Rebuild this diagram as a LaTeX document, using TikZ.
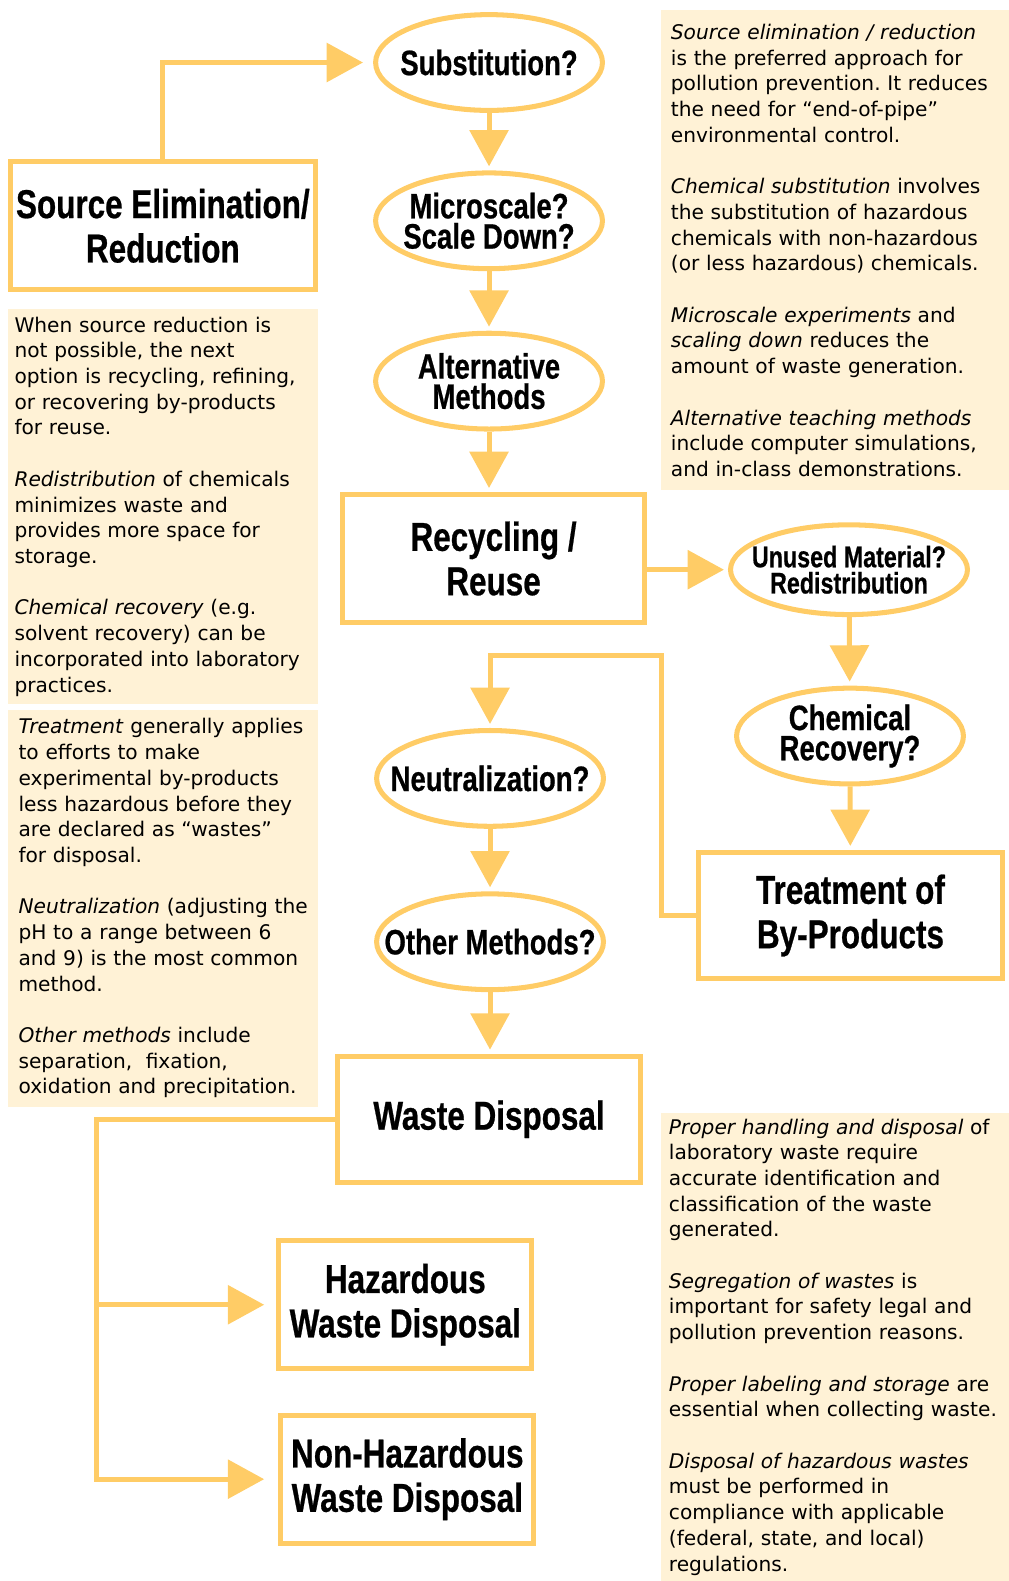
\documentclass[tikz,border=0pt]{standalone}
\usepackage{fontspec}
\setmainfont{DejaVu Sans}
\newfontfamily\headfont{Liberation Sans}[FakeStretch=0.78, BoldFeatures={FakeBold=0.6}]
\usetikzlibrary{positioning,arrows.meta,shapes.geometric}
\definecolor{yel}{HTML}{FFCC66}
\definecolor{cream}{HTML}{FFF2D6}
\frenchspacing

\begin{document}
\begin{tikzpicture}[x=0.5pt, y=-0.5pt,
  box/.style={draw=yel, line width=2.5pt, minimum width=150pt, minimum height=63.5pt, align=center, inner sep=0pt, font=\headfont\bfseries\fontsize{20}{22}\selectfont},
  oval/.style={ellipse, draw=yel, line width=2.5pt, minimum width=112.5pt, minimum height=47.5pt, inner sep=0pt},
  ovaltxt/.style={align=center, inner sep=0pt, font=\headfont\bfseries\fontsize{17.5}{15}\selectfont},
  note/.style={fill=cream, align=left, anchor=north west, inner xsep=5pt, inner ysep=0pt, text width=162.5pt, font=\fontsize{10}{12.75}\selectfont},
  arr/.style={draw=yel, line width=2.5pt, -{Triangle[length=18pt, width=19pt]}, shorten >=2pt}]
\useasboundingbox (0,0) rectangle (1000,1568);
% side notes
\node[note, minimum height=238pt] (n1) at (655,10) {\textit{Source elimination / reduction}\\ is the preferred approach for\\ pollution prevention. It reduces\\ the need for “end-of-pipe”\\ environmental control.\\[12.75pt] \textit{Chemical substitution} involves\\ the substitution of hazardous\\ chemicals with non-hazardous\\ (or less hazardous) chemicals.\\[12.75pt] \textit{Microscale experiments} and\\ \textit{scaling down} reduces the\\ amount of waste generation.\\[12.75pt] \textit{Alternative teaching methods}\\ include computer simulations,\\ and in-class demonstrations.};
\node[note, inner xsep=3pt, text width=147.5pt, minimum height=196pt] (n2) at (8,306) {When source reduction is\\ not possible, the next\\ option is recycling, refining,\\ or recovering by-products\\ for reuse.\\[12.75pt] \textit{Redistribution} of chemicals\\ minimizes waste and\\ provides more space for\\ storage.\\[12.75pt] \textit{Chemical recovery} (e.g.\\ solvent recovery) can be\\ incorporated into laboratory\\ practices.};
\node[note, text width=143.5pt, minimum height=196.5pt] (n3) at (8,704) {\textit{Treatment} generally applies\\ to efforts to make\\ experimental by-products\\ less hazardous before they\\ are declared as “wastes”\\ for disposal.\\[12.75pt] \textit{Neutralization} (adjusting the\\ pH to a range between 6\\ and 9) is the most common\\ method.\\[12.75pt] \textit{Other methods} include\\ separation,\ \ fixation,\\ oxidation and precipitation.};
\node[note, inner xsep=4pt, text width=165pt, minimum height=232.5pt] (n4) at (655,1103) {\textit{Proper handling and disposal} of\\ laboratory waste require\\ accurate identification and\\ classification of the waste\\ generated.\\[12.75pt] \textit{Segregation of wastes} is\\ important for safety legal and\\ pollution prevention reasons.\\[12.75pt] \textit{Proper labeling and storage} are\\ essential when collecting waste.\\[12.75pt] \textit{Disposal of hazardous wastes}\\ must be performed in\\ compliance with applicable\\ (federal, state, and local)\\ regulations.};
% flow chart
\node[box, minimum width=151pt] (src) at (161.5,224) {Source Elimination/\\Reduction};
\node[oval, label={[ovaltxt]center:Substitution?}] (sub) at (485,62) {};
\node[oval, label={[ovaltxt]center:Microscale?\\Scale Down?}] (micro) at (485,219) {};
\node[oval, label={[ovaltxt]center:Alternative\\Methods}] (alt) at (485,378) {};
\node[box] (recyc) at (489.5,554) {Recycling /\\Reuse};
\node[oval, minimum width=117.5pt, minimum height=44.5pt, label={[ovaltxt, font=\headfont\bfseries\fontsize{14.8}{13}\selectfont]center:Unused Material?\\Redistribution}] (unused) at (842,565) {};
\node[oval, label={[ovaltxt]center:Chemical\\Recovery?}] (chem) at (843,730) {};
\node[box, minimum width=151pt, minimum height=62.5pt] (treat) at (843.5,908) {Treatment of\\By-Products};
\node[oval, label={[ovaltxt]center:Neutralization?}] (neut) at (486,772) {};
\node[oval, label={[ovaltxt]center:Other Methods?}] (other) at (486,934) {};
\node[box, minimum height=62.5pt] (waste) at (485,1110) {Waste Disposal};
\node[box, minimum width=125.5pt] (haz) at (402,1294) {Hazardous\\Waste Disposal};
\node[box, minimum width=125.5pt] (nonhaz) at (404,1467) {Non-Hazardous\\Waste Disposal};
\coordinate (turn) at (656,650);
\coordinate (trunk) at (96,1467);
\draw[arr, shorten >=5pt] (src.north) |- (sub.west);
\draw[arr] (sub) -- (micro); \draw[arr] (micro) -- (alt); \draw[arr] (alt) -- (alt |- recyc.north);
\draw[arr] (recyc.east |- unused) -- (unused); \draw[arr] (unused) -- (chem); \draw[arr] (chem) -- (treat);
\draw[arr] (treat.west) -| (turn) -| (neut);
\draw[arr] (neut) -- (other); \draw[arr] (other) -- (other |- waste.north);
\draw[arr, shorten >=7pt] (waste.west) -| (trunk) -- (nonhaz);
\draw[arr, shorten >=6pt] (trunk |- haz) -- (haz);
\end{tikzpicture}
\end{document}
